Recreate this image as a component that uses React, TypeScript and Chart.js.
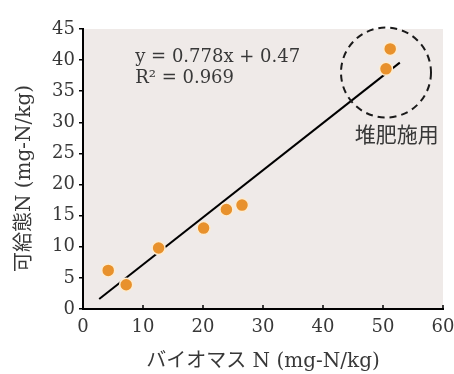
import React, { useEffect, useRef } from "react";
import { Chart, registerables } from "chart.js";

Chart.register(...registerables);

const biomassN = [4.2, 7.2, 12.6, 20.1, 23.9, 26.5, 50.5, 51.2];
const availableN = [6.2, 3.9, 9.8, 13.0, 16.0, 16.7, 38.6, 41.8];
const fitX = [2.7, 52.8];
const fitY = [1.6, 39.6];
const xTicks = [0, 10, 20, 30, 40, 50, 60];
const yTicks = [0, 5, 10, 15, 20, 25, 30, 35, 40, 45];
const equationLines = ["y = 0.778x + 0.47", "R\u00b2 = 0.969"];
const equationAnchor = [8.7, 40.4, 37.0];
const circleCenter = [50.5, 38.0];
const circleRadiusX = 7.5;
const circleLabel = "堆肥施用";
const circleLabelPos = [52.3, 28.2];

const FONT = "'DejaVu Serif', 'Noto Sans CJK JP', serif";
const TEXT = "#383838";

const decorPlugin = {
  id: "decor",
  beforeDraw(chart: any) {
    const { ctx, chartArea } = chart;
    ctx.save();
    ctx.fillStyle = "#efeae8";
    ctx.fillRect(chartArea.left, chartArea.top, chartArea.right - chartArea.left, chartArea.bottom - chartArea.top);
    ctx.restore();
  },
  afterDraw(chart: any) {
    const { ctx } = chart;
    const xs = chart.scales.x;
    const ys = chart.scales.y;
    ctx.save();
    ctx.strokeStyle = "#000";
    ctx.lineWidth = 1.5;
    xTicks.forEach((v) => {
      const px = xs.getPixelForValue(v);
      ctx.beginPath();
      ctx.moveTo(px, ys.bottom);
      ctx.lineTo(px, ys.bottom - 4);
      ctx.stroke();
    });
    ctx.fillStyle = TEXT;
    ctx.font = `18px ${FONT}`;
    ctx.textAlign = "left";
    ctx.textBaseline = "middle";
    ctx.fillText(equationLines[0], xs.getPixelForValue(equationAnchor[0]), ys.getPixelForValue(equationAnchor[1]));
    ctx.fillText(equationLines[1], xs.getPixelForValue(equationAnchor[0]), ys.getPixelForValue(equationAnchor[2]));
    const cx = xs.getPixelForValue(circleCenter[0]);
    const cy = ys.getPixelForValue(circleCenter[1]);
    const r = xs.getPixelForValue(circleCenter[0] + circleRadiusX) - cx;
    ctx.setLineDash([7, 5]);
    ctx.lineWidth = 2;
    ctx.strokeStyle = "#1a1a1a";
    ctx.beginPath();
    ctx.arc(cx, cy, r, 0, Math.PI * 2);
    ctx.stroke();
    ctx.setLineDash([]);
    ctx.font = `21px 'Noto Sans CJK JP', sans-serif`;
    ctx.textAlign = "center";
    ctx.fillStyle = TEXT;
    ctx.fillText(circleLabel, xs.getPixelForValue(circleLabelPos[0]), ys.getPixelForValue(circleLabelPos[1]));
    ctx.restore();
  },
};

export default function App() {
  const ref = useRef<HTMLCanvasElement>(null);
  useEffect(() => {
    document.body.style.margin = "0";
    const chart = new Chart(ref.current as HTMLCanvasElement, {
      type: "scatter",
      data: {
        datasets: [
          {
            data: biomassN.map((x, i) => ({ x, y: availableN[i] })),
            backgroundColor: "#e8912c",
            borderColor: "#fcecd2",
            borderWidth: 1.5,
            pointRadius: 6.5,
            order: 0,
          },
          {
            type: "line",
            data: fitX.map((x, i) => ({ x, y: fitY[i] })),
            borderColor: "#000",
            borderWidth: 2,
            pointRadius: 0,
            showLine: true,
            fill: false,
            order: 1,
          } as any,
        ],
      },
      options: {
        responsive: false,
        animation: false,
        layout: { padding: { top: 29, right: 11, left: 0, bottom: 0 } },
        plugins: { legend: { display: false }, tooltip: { enabled: false } },
        scales: {
          x: {
            type: "linear",
            min: 0,
            max: 60,
            afterBuildTicks: (s: any) => { s.ticks = xTicks.map((v) => ({ value: v })); },
            afterFit: (s: any) => { s.height = 65; s.paddingRight = 0; s.paddingLeft = 0; },
            border: { color: "#000", width: 2 },
            grid: { drawOnChartArea: false, drawTicks: false },
            ticks: { color: TEXT, font: { family: FONT, size: 18 }, padding: 8 },
            title: {
              display: true,
              text: "バイオマス N (mg-N/kg)",
              color: TEXT,
              font: { family: FONT, size: 20 },
              padding: { top: 0, bottom: 0 },
            },
          },
          y: {
            type: "linear",
            min: 0,
            max: 45,
            afterBuildTicks: (s: any) => { s.ticks = yTicks.map((v) => ({ value: v })); },
            afterFit: (s: any) => { s.width = 83; s.paddingTop = 0; s.paddingBottom = 0; },
            border: { color: "#000", width: 2 },
            grid: { drawOnChartArea: false, drawTicks: true, tickLength: 4, color: "#000", lineWidth: 1.5 },
            ticks: { color: TEXT, font: { family: FONT, size: 18 }, padding: 4 },
            title: {
              display: true,
              text: "可給態N (mg-N/kg)   ",
              color: TEXT,
              font: { family: FONT, size: 20 },
              padding: { top: 13, bottom: 0 },
            },
          },
        },
      },
      plugins: [decorPlugin],
    });
    return () => chart.destroy();
  }, []);
  return <canvas ref={ref} width={454} height={374} style={{ display: "block" }} />;
}
